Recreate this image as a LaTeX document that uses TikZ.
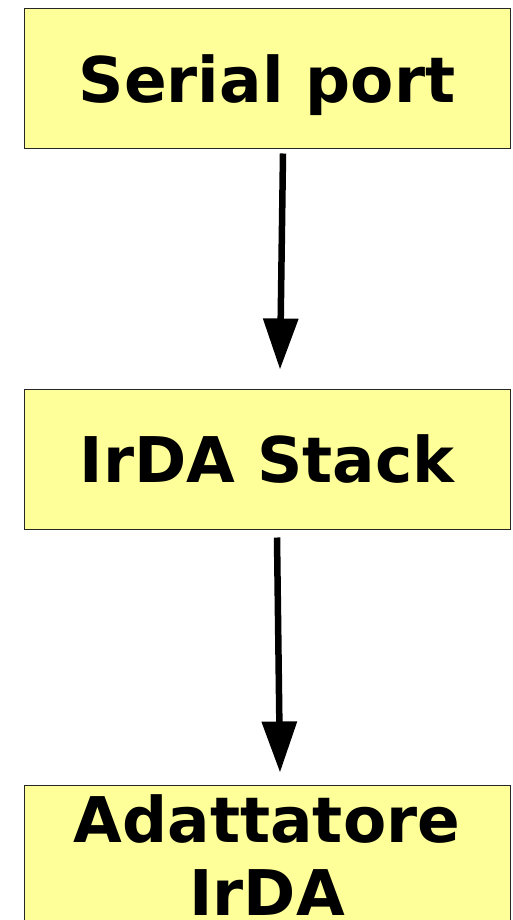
\documentclass[tikz,border=0pt]{standalone}
\usepackage{fontspec}
\setmainfont{DejaVu Sans}
\usetikzlibrary{positioning}
\usetikzlibrary{arrows.meta}

\definecolor{boxyellow}{HTML}{FFFF99}

\tikzset{
  layerbox/.style={draw=black!85, line width=1pt, fill=boxyellow,
    minimum width=486pt, minimum height=140pt, inner sep=0pt,
    align=center, font=\fontsize{63}{73}\selectfont\bfseries},
  flowarrow/.style={line width=6.5pt, -{Triangle[length=51pt,width=34pt]}}
}

\begin{document}
\begin{tikzpicture}[x=1pt,y=-1pt]
\useasboundingbox (0,0) rectangle (512,920);
\clip (0,0) rectangle (512,920);

%boxes
\node[layerbox, text depth=0pt] (serial) at (267,79) {Serial port};
\node[layerbox] (stack) at (267,459) {IrDA Stack};
\node[layerbox] (adapter) at (267,855) {Adattatore\\IrDA};

%arrows
\draw[flowarrow] ([xshift=16pt,yshift=-4pt]serial.south) -- ([xshift=13pt,yshift=19pt]stack.north);
\draw[flowarrow] ([xshift=10pt,yshift=-8pt]stack.south) -- ([xshift=13pt,yshift=12pt]adapter.north);

\end{tikzpicture}
\end{document}
